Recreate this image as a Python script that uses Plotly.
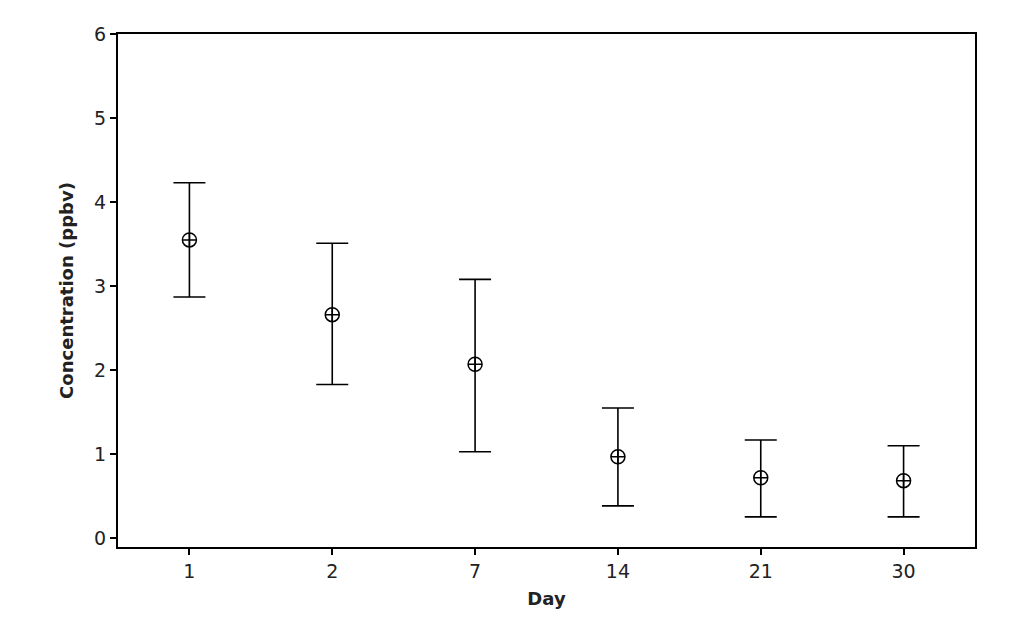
import plotly.graph_objects as go

days = ["1", "2", "7", "14", "21", "30"]
mean_conc = [3.55, 2.66, 2.07, 0.97, 0.72, 0.685]
upper_conc = [4.23, 3.51, 3.08, 1.55, 1.17, 1.10]
lower_conc = [2.87, 1.83, 1.03, 0.385, 0.255, 0.255]
y_ticks = [0, 1, 2, 3, 4, 5, 6]

err_plus = [u - m for u, m in zip(upper_conc, mean_conc)]
err_minus = [m - l for m, l in zip(mean_conc, lower_conc)]

fig = go.Figure()
fig.add_trace(go.Scatter(
    x=days, y=mean_conc, mode="markers",
    marker=dict(symbol="circle-cross-open", size=14, color="black",
                line=dict(width=1.5, color="black")),
    error_y=dict(type="data", symmetric=False, array=err_plus, arrayminus=err_minus,
                 color="black", thickness=1.6, width=16),
    showlegend=False,
))

axis_font = dict(family="DejaVu Sans, Verdana, sans-serif", size=19, color="#222")
title_font = dict(family="DejaVu Sans, Verdana, sans-serif", size=18, color="#222")

fig.update_layout(
    width=1016, height=636,
    margin=dict(l=110, r=49, t=26, b=97),
    paper_bgcolor="white", plot_bgcolor="white",
    xaxis=dict(
        type="category", range=[-0.5, 5.5],
        showline=True, linecolor="black", linewidth=2, mirror=True,
        ticks="outside", ticklen=6, tickwidth=1.5, tickcolor="black",
        showgrid=False, zeroline=False, tickfont=axis_font,
        title=dict(text="<b>Day</b>", font=title_font, standoff=12),
    ),
    yaxis=dict(
        range=[-0.104, 6.0], tickvals=y_ticks,
        showline=True, linecolor="black", linewidth=2, mirror=True,
        ticks="outside", ticklen=6, tickwidth=1.5, tickcolor="black",
        showgrid=False, zeroline=False, tickfont=axis_font,
        title=dict(text="<b>Concentration (ppbv)</b>", font=title_font, standoff=16),
    ),
)

fig.write_html("out.html")
